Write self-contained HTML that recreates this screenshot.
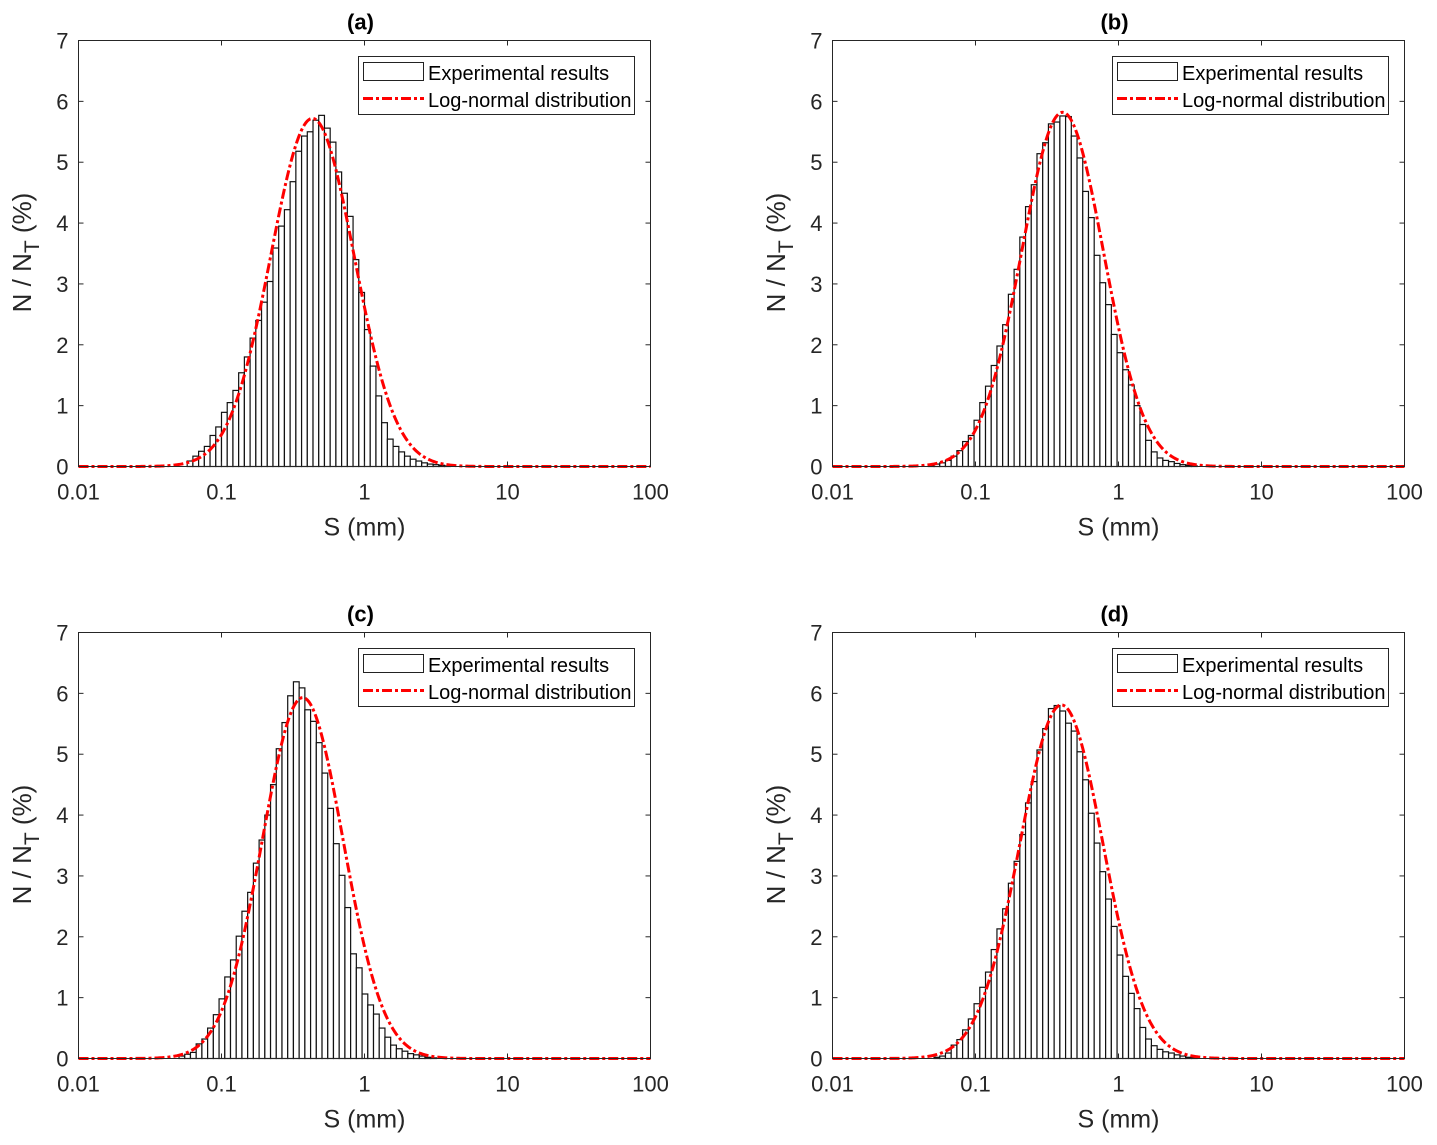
<!DOCTYPE html>
<html><head><meta charset="utf-8"><style>
html,body{margin:0;padding:0;background:#fff;}
svg{display:block;font-family:"Liberation Sans",Arial,sans-serif;}
</style></head><body>
<svg id="fig" width="1437" height="1145" viewBox="0 0 1437 1145" xmlns="http://www.w3.org/2000/svg"></svg>
<script>
// ---- data ----
const panelTitles = ["(a)", "(b)", "(c)", "(d)"];
const xTickLabels = ["0.01", "0.1", "1", "10", "100"];
const xTickValues = [0.01, 0.1, 1, 10, 100];
const yTickValues = [0, 1, 2, 3, 4, 5, 6, 7];
const binLogWidth = 0.04;
const histStartA = -1.240;
const histA = [0.09,0.17,0.25,0.33,0.51,0.65,0.89,1.05,1.25,1.54,1.80,2.11,2.40,2.70,3.04,3.59,3.95,4.22,4.68,5.18,5.43,5.50,5.69,5.77,5.56,5.33,4.84,4.49,4.11,3.40,2.86,2.25,1.65,1.16,0.72,0.45,0.33,0.24,0.17,0.12,0.09,0.06,0.04,0.03,0.02,0.01];
const histStartB = -1.330;
const histB = [0.02,0.04,0.06,0.10,0.17,0.26,0.41,0.51,0.76,1.05,1.32,1.66,1.98,2.33,2.83,3.24,3.77,4.27,4.63,5.14,5.32,5.63,5.66,5.76,5.75,5.43,5.07,4.52,4.09,3.47,3.02,2.66,2.17,1.87,1.59,1.34,1.00,0.69,0.43,0.24,0.14,0.10,0.08,0.05,0.03,0.02,0.01];
const histStartC = -1.297;
const histC = [0.04,0.07,0.10,0.24,0.32,0.50,0.72,0.98,1.34,1.62,2.01,2.42,2.73,3.21,3.59,4.00,4.50,5.09,5.52,5.96,6.19,6.09,5.73,5.54,5.19,4.69,4.11,3.53,3.01,2.48,1.72,1.49,1.06,0.88,0.73,0.50,0.35,0.22,0.16,0.12,0.08,0.06,0.04,0.02,0.01];
const histStartD = -1.290;
const histD = [0.02,0.04,0.09,0.22,0.31,0.47,0.65,0.90,1.17,1.42,1.79,2.13,2.46,2.88,3.24,3.68,4.20,4.55,5.07,5.42,5.75,5.80,5.71,5.51,5.38,5.04,4.58,4.03,3.54,3.07,2.62,2.17,1.70,1.35,1.07,0.82,0.51,0.32,0.21,0.15,0.11,0.09,0.06,0.04,0.02,0.01];
// log-normal fit parameters: [peak %, log10 median, log10 sigma]
const fitA = [5.72, -0.364, 0.291];
const fitB = [5.82, -0.391, 0.286];
const fitC = [5.93, -0.432, 0.282];
const fitD = [5.81, -0.399, 0.291];
const legendLabels = ["Experimental results", "Log-normal distribution"];

// ---- drawing ----
const NS = "http://www.w3.org/2000/svg";
const svg = document.getElementById("fig");
function mk(tag, attrs, parent) {
  const e = document.createElementNS(NS, tag);
  for (const k in attrs) e.setAttribute(k, attrs[k]);
  (parent || svg).appendChild(e);
  return e;
}
const panels = [
  {ox: 0, oy: 0, start: histStartA, hist: histA, fit: fitA},
  {ox: 754, oy: 0, start: histStartB, hist: histB, fit: fitB},
  {ox: 0, oy: 592, start: histStartC, hist: histC, fit: fitC},
  {ox: 754, oy: 592, start: histStartD, hist: histD, fit: fitD}
];
panels.forEach((p, i) => {
  const L = 78.5 + p.ox, R = 650.5 + p.ox, T = 40.5 + p.oy, B = 466.5 + p.oy;
  const xs = v => L + (Math.log10(v) + 2) / 4 * (R - L);
  const xl = lg => L + (lg + 2) / 4 * (R - L);
  const ys = v => B - v / 7 * (B - T);
  const g = mk("g", {});
  
  
  const bars = mk("g", {}, g);
  
  
  p.hist.forEach((v, k) => {
    const x0 = xl(p.start + k * binLogWidth), x1 = xl(p.start + (k + 1) * binLogWidth);
    const r = mk("rect", {x: x0, y: ys(v), width: x1 - x0, height: B - ys(v), fill: "#fff", stroke: "#111", "stroke-width": 1.2}, bars);
    
    
  });
  let d = "";
  for (let s = 0; s <= 400; s++) {
    const lg = -2 + s * 4 / 400;
    const v = p.fit[0] * Math.exp(-Math.pow(lg - p.fit[1], 2) / (2 * p.fit[2] * p.fit[2]));
    d += (s ? "L" : "M") + xl(lg).toFixed(2) + "," + ys(v).toFixed(2);
  }
  const c = mk("path", {d: d, fill: "none", stroke: "#ff0000", "stroke-width": 3, "stroke-dasharray": "10,3,3,3"}, g);
  
  
  const box = mk("rect", {x: L, y: T, width: R - L, height: B - T, fill: "none", stroke: "#262626", "stroke-width": 1}, g);
  
  
  xTickValues.forEach((v, j) => {
    const x = xs(v);
    mk("line", {x1: x, x2: x, y1: B, y2: B - 5, stroke: "#262626"}, g);
    mk("line", {x1: x, x2: x, y1: T, y2: T + 5, stroke: "#262626"}, g);
    const t = mk("text", {x: x, y: B + 33, "text-anchor": "middle", "font-size": 22, fill: "#262626"}, g);
    t.textContent = xTickLabels[j];
    
    
  });
  yTickValues.forEach(v => {
    const y = ys(v);
    mk("line", {x1: L, x2: L + 5, y1: y, y2: y, stroke: "#262626"}, g);
    mk("line", {x1: R, x2: R - 5, y1: y, y2: y, stroke: "#262626"}, g);
    const t = mk("text", {x: L - 10, y: y + 8, "text-anchor": "end", "font-size": 22, fill: "#262626"}, g);
    t.textContent = v;
    
    
  });
  const xt = mk("text", {x: (L + R) / 2, y: B + 69, "text-anchor": "middle", "font-size": 25, fill: "#262626"}, g);
  xt.textContent = "S (mm)";
  
  
  const yt = mk("text", {x: 0, y: 0, "text-anchor": "middle", "font-size": 26, fill: "#262626", transform: "translate(" + (31 + p.ox) + "," + ((T + B) / 2 - 1) + ") rotate(-90)"}, g);
  yt.innerHTML = 'N / N<tspan dy="8" font-size="21">T</tspan><tspan dy="-8"> (%)</tspan>';
  
  
  const tt = mk("text", {x: (L + R) / 2 - 4, y: T - 11, "text-anchor": "middle", "font-size": 22, "font-weight": "bold", fill: "#000"}, g);
  tt.textContent = panelTitles[i];
  
  
  const lg = mk("g", {}, g);
  
  
  mk("rect", {x: 358.5 + p.ox, y: 56.5 + p.oy, width: 276, height: 58, fill: "#fff", stroke: "#262626"}, lg);
  mk("rect", {x: 363.5 + p.ox, y: 62.5 + p.oy, width: 60, height: 18, fill: "#fff", stroke: "#222"}, lg);
  mk("line", {x1: 363 + p.ox, x2: 424 + p.ox, y1: 98.5 + p.oy, y2: 98.5 + p.oy, stroke: "#ff0000", "stroke-width": 3, "stroke-dasharray": "10,3,3,3"}, lg);
  legendLabels.forEach((s, j) => {
    const t = mk("text", {x: 428 + p.ox, y: 80 + j * 27 + p.oy, "font-size": 20, fill: "#000"}, lg);
    t.textContent = s;
    
    
  });
});
</script>
</body></html>
